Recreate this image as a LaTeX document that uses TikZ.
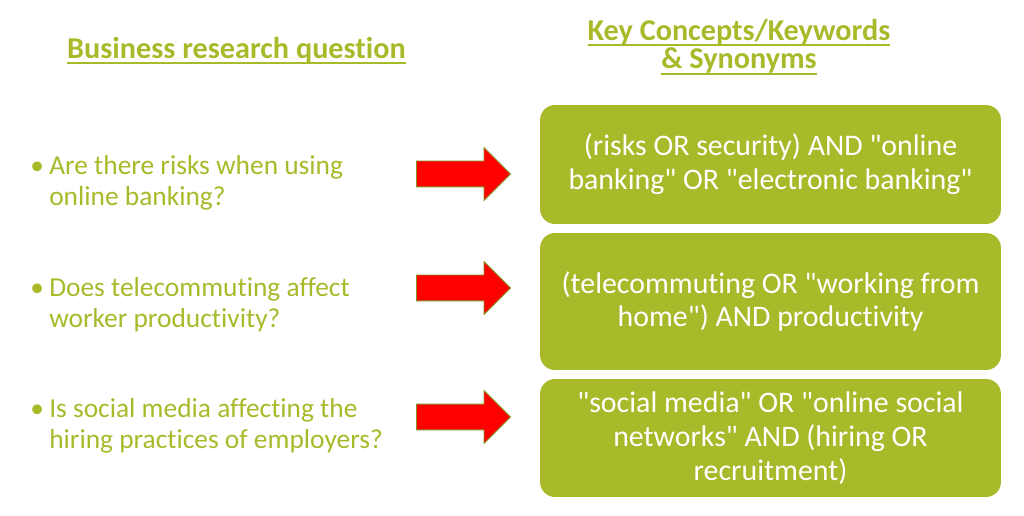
\documentclass[tikz,border=0pt]{standalone}
\usepackage{fontspec}
\setmainfont{Carlito}[Ligatures=NoCommon]
\usetikzlibrary{shapes.arrows}
\definecolor{olive}{HTML}{A8B92A}
\definecolor{arrred}{HTML}{FF0000}
\newcommand{\ulin}[1]{\setbox0\hbox{#1}\rlap{\rule[-3.2pt]{\wd0}{1.1pt}}\box0}
\newcommand{\qd}{\textquotedbl}

\begin{document}
\begin{tikzpicture}[x=0.02cm,y=-0.02cm,
  every node/.style={inner sep=0pt},
  head/.style={font=\fontsize{17.2}{14.2}\selectfont\bfseries,text=olive,align=center},
  quest/.style={font=\fontsize{15.6}{17.5}\selectfont,text=olive,anchor=west},
  kbox/.style={rectangle,rounded corners=0.3cm,fill=olive,text=white,
    minimum width=9.22cm,align=center,font=\fontsize{17}{19.3}\selectfont},
  bigarr/.style={single arrow,draw=olive!80!black,fill=arrred,line width=0.5pt,
    minimum height=1.88cm,inner sep=0.25cm,single arrow head extend=0.27cm}
]
\useasboundingbox (0,0) rectangle (1024,516);
% headings
\node[head] (hq) at (236.5,51) {\ulin{Business research question}};
\node[head] (hk) at (739,47) {\ulin{Key Concepts/Keywords}\\\ulin{\& Synonyms}};
% questions
\node[quest] (q1) at (30,184) {\begin{tabular}{@{}l@{\hspace{3pt}}l@{}}\textbullet&Are there risks when using\\&online banking?\end{tabular}};
\node[quest] (q2) at (30,306) {\begin{tabular}{@{}l@{\hspace{3pt}}l@{}}\textbullet&Does telecommuting affect\\&worker productivity?\end{tabular}};
\node[quest] (q3) at (30,427) {\begin{tabular}{@{}l@{\hspace{3pt}}l@{}}\textbullet&Is social media affecting the\\&hiring practices of employers?\end{tabular}};
% arrows
\node[bigarr] (a1) at (457,174) {};
\node[bigarr] (a2) at (457,288) {};
\node[bigarr] (a3) at (457,417) {};
% keyword boxes
\node[kbox,minimum height=2.38cm] (k1) at (770.5,164.5) {(risks OR security) AND \qd online\\banking\qd{} OR \qd electronic banking\qd};
\node[kbox,minimum height=2.74cm] (k2) at (770.5,301.5) {(telecommuting OR \qd working from\\home\qd) AND productivity};
\node[kbox,minimum height=2.36cm] (k3) at (770.5,438) {\qd social media\qd{} OR \qd online social\\networks\qd{} AND (hiring OR\\recruitment)};
\end{tikzpicture}
\end{document}
